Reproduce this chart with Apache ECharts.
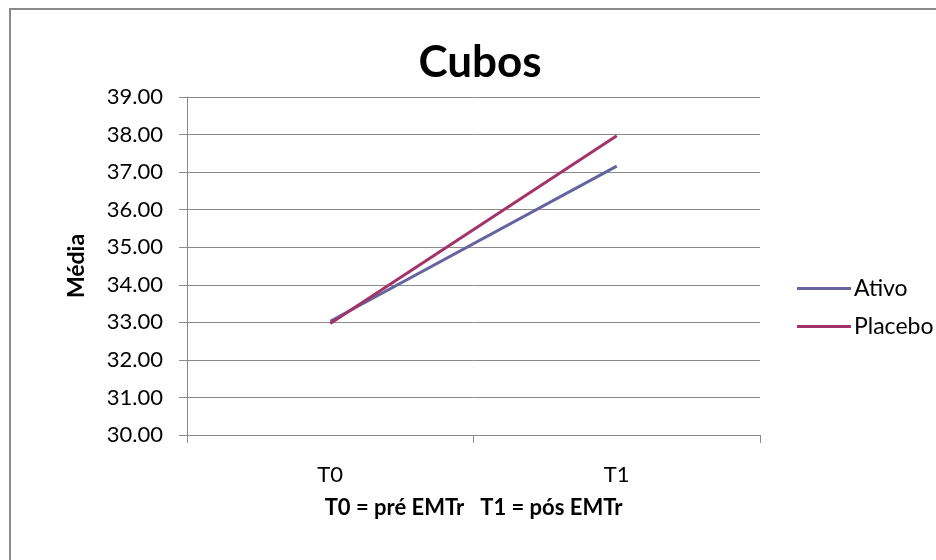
<!DOCTYPE html>
<html>
<head>
<meta charset="utf-8">
<script src="https://cdn.jsdelivr.net/npm/echarts@6/dist/echarts.min.js"></script>
<style>
  html, body { margin: 0; padding: 0; background: #fff; }
  #chart { width: 936px; height: 560px; }
</style>
</head>
<body>
<div id="chart"></div>
<script>
// Mean "Cubos" score before and after EMTr, per group
const categories = ['T0', 'T1'];
const ativo = [33.03, 37.16];
const placebo = [32.97, 37.97];
const seriesNames = ['Ativo', 'Placebo'];
const chartTitle = 'Cubos';
const xTitle = 'T0 = pré EMTr   T1 = pós EMTr';
const yTitle = 'Média';

const FONT = 'Lato, "Open Sans", sans-serif';
const GRAY = '#8a8a8a';

const chart = echarts.init(document.getElementById('chart'), null, { renderer: 'canvas' });
chart.setOption({
  animation: false,
  backgroundColor: '#fff',
  textStyle: { fontFamily: FONT },
  graphic: [{
    type: 'rect',
    shape: { x: 10, y: 9, width: 1000, height: 700 },
    style: { fill: 'none', stroke: GRAY, lineWidth: 2 },
    silent: true
  }],
  title: {
    text: chartTitle,
    left: 475,
    top: 36,
    textAlign: 'center',
    textStyle: { fontFamily: FONT, fontSize: 44, fontWeight: 'bold', color: '#000' }
  },
  legend: {
    orient: 'vertical',
    left: 792,
    top: 272,
    itemWidth: 54,
    itemHeight: 3,
    itemGap: 15,
    icon: 'rect',
    textStyle: { fontFamily: FONT, fontSize: 23, color: '#000', padding: [0, 0, 0, -2] },
    data: seriesNames
  },
  grid: { left: 187, right: 176, top: 97, bottom: 125, containLabel: false },
  xAxis: {
    type: 'category',
    data: categories,
    boundaryGap: true,
    name: xTitle,
    nameLocation: 'middle',
    nameGap: 62,
    nameTextStyle: { fontFamily: FONT, fontSize: 22, fontWeight: 'bold', color: '#000' },
    axisLine: { show: true, lineStyle: { color: GRAY, width: 1 } },
    axisTick: { show: true, length: 8, inside: false, lineStyle: { color: GRAY } },
    axisLabel: { fontFamily: FONT, fontSize: 22, color: '#000', margin: 29 },
    splitLine: { show: false }
  },
  yAxis: {
    type: 'value',
    min: 30,
    max: 39,
    interval: 1,
    name: yTitle,
    nameLocation: 'middle',
    nameRotate: 90,
    nameGap: 99,
    nameTextStyle: { fontFamily: FONT, fontSize: 23, fontWeight: 'bold', color: '#000' },
    axisLine: { show: true, lineStyle: { color: GRAY, width: 1 } },
    axisTick: { show: true, length: 8, inside: false, lineStyle: { color: GRAY } },
    axisLabel: {
      fontFamily: FONT, fontSize: 22, color: '#000', margin: 24,
      formatter: v => v.toFixed(2)
    },
    splitLine: { show: true, lineStyle: { color: GRAY, width: 1 } }
  },
  series: [
    {
      name: seriesNames[0],
      type: 'line',
      data: ativo,
      symbol: 'none',
      lineStyle: { color: '#65649f', width: 3 },
      itemStyle: { color: '#65649f' }
    },
    {
      name: seriesNames[1],
      type: 'line',
      data: placebo,
      symbol: 'none',
      lineStyle: { color: '#a2346a', width: 3 },
      itemStyle: { color: '#a2346a' }
    }
  ]
});
</script>
</body>
</html>
